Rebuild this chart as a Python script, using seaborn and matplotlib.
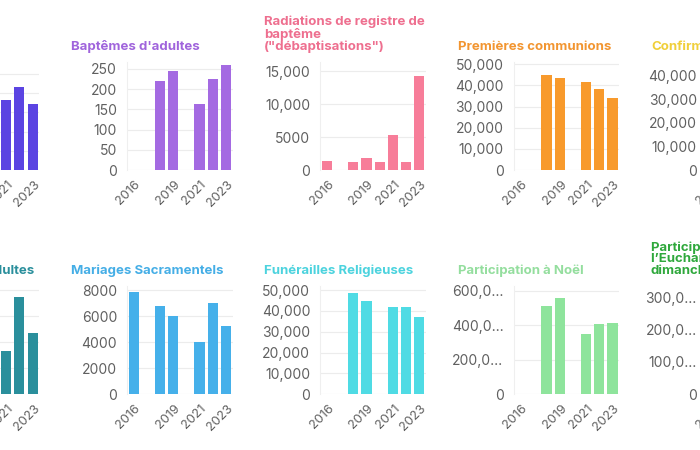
import matplotlib
matplotlib.use("Agg")
import matplotlib.pyplot as plt
import matplotlib.transforms as mtransforms
import seaborn as sns
import pandas as pd

sns.set_theme(style="white")
plt.rcParams['font.family'] = ['Inter', 'DejaVu Sans']

# ---------------- data ----------------
years = [2016, 2017, 2018, 2019, 2020, 2021, 2022, 2023]
shown_years = ["2016", "2019", "2021", "2023"]

# top row
baptemes = [None, None, None, None, None, 36700, 43300, 34600]
baptemes_adultes = [None, None, 219, 244, None, 163, 224, 259]
radiations = [1300, None, 1150, 1850, 1250, 5250, 1250, 14200]
premieres_communions = [None, None, 45000, 43700, None, 41500, 38200, 33900]
confirmations = [None, None, None, None, None, None, None, None]

# bottom row
confirmations_adultes = [None, None, None, None, None, 330, 745, 470]
mariages = [7870, None, 6770, 6000, None, 4030, 6980, 5240]
funerailles = [None, None, 48400, 44900, None, 41700, 41700, 37200]
noel = [None, None, 513000, 557000, None, 348000, 406000, 412000]
eucharistie = [None, None, None, None, None, None, None, None]

titles_top = ["", "Baptêmes d'adultes",
              "Radiations de registre de\nbaptême\n(\"débaptisations\")",
              "Premières communions", "Confirmations"]
titles_bottom = ["Confirmations d'adultes", "Mariages Sacramentels",
                 "Funérailles Religieuses", "Participation à Noël",
                 "Participation à\nl’Eucharistie du\ndimanche"]

ticks_10k = [0, 10000, 20000, 30000, 40000, 50000]
labels_10k = ["0", "10,000", "20,000", "30,000", "40,000", "50,000"]

# ---------------- layout helpers ----------------
W, H = 700, 450
fig = plt.figure(figsize=(7, 4.5), dpi=100)
fig.patch.set_facecolor("white")


def add_ax(x0, y0, w, h):
    return fig.add_axes([x0 / W, 1 - (y0 + h) / H, w / W, h / H])


col_left = [-66.3, 127.0, 320.3, 513.6, 706.9]
ax_w = 105.5
rows = [(62.0, 108.0, 53.0), (286.0, 108.3, 277.0)]  # (top, height, title bottom)

panels = [
    # row, col, values, color, title color, yticks, ylabels, ytop
    (0, 0, baptemes, "#5b44e2", "#5b44e2", ticks_10k, labels_10k, 56250),
    (0, 1, baptemes_adultes, "#a46ae2", "#a064dc", [0, 50, 100, 150, 200, 250],
     ["0", "50", "100", "150", "200", "250"], 267),
    (0, 2, radiations, "#f77d99", "#ee6f8f", [0, 5000, 10000, 15000],
     ["0", "5000", "10,000", "15,000"], 16364),
    (0, 3, premieres_communions, "#f89a2c", "#f29530", ticks_10k, labels_10k, 51088),
    (0, 4, confirmations, "#f2d03a", "#f0cf3a", ticks_10k[:5], labels_10k[:5], 45957),
    (1, 0, confirmations_adultes, "#2a8f9c", "#2a8f9c", [0, 200, 400, 600, 800],
     ["0", "200", "400", "600", "800"], 831),
    (1, 1, mariages, "#45b0ea", "#45aee6", [0, 2000, 4000, 6000, 8000],
     ["0", "2000", "4000", "6000", "8000"], 8307),
    (1, 2, funerailles, "#4fdbe4", "#4cd3de", ticks_10k, labels_10k, 51918),
    (1, 3, noel, "#8ee49c", "#94de9e", [0, 200000, 400000, 600000],
     ["0", "200,0…", "400,0…", "600,0…"], 629000),
    (1, 4, eucharistie, "#2fa83c", "#2fa83c", [0, 100000, 200000, 300000],
     ["0", "100,0…", "200,0…", "300,0…"], 334000),
]

order = [str(y) for y in years]
tick_color = "#606060"
xlabel_shift = mtransforms.ScaledTranslation(0.05, -0.03, fig.dpi_scale_trans)

for row, col, vals, color, tcolor, yt, yl, ytop in panels:
    top, height, title_bottom = rows[row]
    L = col_left[col]
    ax = add_ax(L, top, ax_w, height)
    df = pd.DataFrame({"year": order, "value": vals}).dropna()
    if len(df):
        sns.barplot(data=df, x="year", y="value", order=order, color=color,
                    saturation=1, width=0.77, errorbar=None, ax=ax,
                    linewidth=0)
    ax.set_xlim(-0.5, 7.5)
    ax.set_ylim(0, ytop)
    xlab = list(shown_years)
    ylab = list(yl)
    if col == 0:      # panel cut by the left edge: only the right part shows
        xlab = ["", "", "2021", "2023"]
        ylab = [""] * len(yl)
    if col == 4:      # panel cut by the right edge: only the first label shows
        xlab = ["2016", "", "", ""]
    ax.set_xticks([order.index(y) for y in shown_years])
    ax.set_xticklabels(xlab, rotation=45, ha="right",
                       rotation_mode="anchor", va="center")
    ax.set_yticks(yt)
    ax.set_yticklabels(ylab)
    ax.set_xlabel("")
    ax.set_ylabel("")
    ax.tick_params(axis="y", length=0, pad=7.2, labelsize=10,
                   labelcolor=tick_color)
    ax.tick_params(axis="x", length=0, pad=7, labelsize=9.2,
                   labelcolor=tick_color)
    for lab in ax.get_xticklabels():
        lab.set_transform(lab.get_transform() + xlabel_shift)
    ax.grid(axis="y", color="#ececec", linewidth=0.8)
    ax.set_axisbelow(True)
    for s in ["top", "right", "bottom"]:
        ax.spines[s].set_visible(False)
    ax.spines["left"].set_color("#efefef")
    ax.spines["left"].set_linewidth(0.8)
    ax.set_facecolor("none")
    title = titles_top[col] if row == 0 else titles_bottom[col]
    if title:
        fig.text((L - 56) / W, 1 - title_bottom / H, title, ha="left",
                 va="bottom", fontsize=9.5, fontweight="bold", color=tcolor,
                 linespacing=0.95)

fig.savefig("out.png", dpi=100, facecolor="white")
